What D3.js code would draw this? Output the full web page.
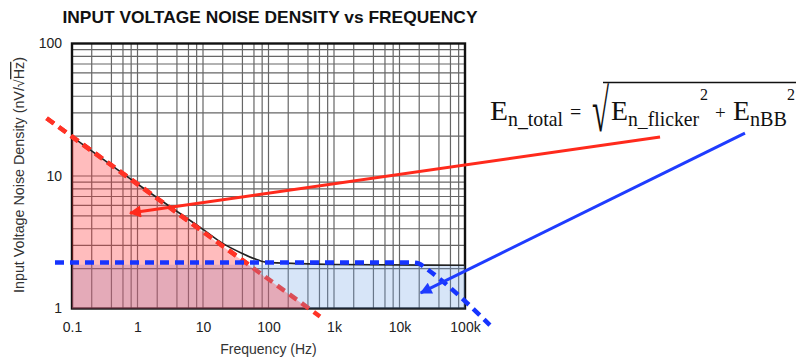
<!DOCTYPE html>
<html>
<head>
<meta charset="utf-8">
<script src="https://cdn.jsdelivr.net/npm/d3@7"></script>
<style>
  html, body { margin: 0; padding: 0; background: #fff; }
  svg { display: block; }
  .sans { font-family: "Liberation Sans", Arial, sans-serif; }
  .serif { font-family: "Liberation Serif", "Times New Roman", serif; fill: #111; }
</style>
</head>
<body>
<main></main>
<script>
(function() {
  const title = "INPUT VOLTAGE NOISE DENSITY vs FREQUENCY";
  const xLabel = "Frequency (Hz)";
  const yLabel = "Input Voltage Noise Density (nV/";

  const xTicks = [0.1, 1, 10, 100, 1000, 10000, 100000];
  const xTickLabels = ["0.1", "1", "10", "100", "1k", "10k", "100k"];
  const yTicks = [1, 10, 100];
  const yTickLabels = ["1", "10", "100"];

  // 1/f (flicker) asymptote
  const flickerFreq = [0.041, 611];
  const flickerNoise = [27.3, 0.87];
  // shaded flicker triangle
  const flickerFillFreq = [0.1, 410, 0.1];
  const flickerFillNoise = [19.5, 1, 1];

  // broadband asymptote (blue dashed)
  const bbFreq = [0.055, 15000, 20000, 25000, 240000];
  const bbNoise = [2.22, 2.22, 2.18, 2.02, 0.75];
  const bbFillFreq = [0.1, 100000];
  const bbFillNoise = [1, 2.14];

  // total noise curve (black)
  const totalFreq = [0.1, 1, 10, 20, 40, 60, 90, 300, 1000, 100000];
  const totalNoise = [19.8, 8.7, 3.95, 3.1, 2.6, 2.38, 2.24, 2.18, 2.15, 2.12];

  // annotation arrows [from, to] in data space
  const redArrow = [[9.5e7, 19.7], [0.77, 5.26]];
  const blueArrow = [[1.88e9, 21.1], [21100, 1.31]];

  const w = 798, h = 362;
  const left = 72, right = 465, top = 43.5, bottom = 308.5;

  const svg = d3.select("main").append("svg")
    .attr("width", w).attr("height", h);

  const defs = svg.append("defs");
  [["redHead", "#ff2a1c"], ["blueHead", "#1f3cff"]].forEach(([id, c]) => {
    defs.append("marker")
      .attr("id", id)
      .attr("viewBox", "0 0 10 10")
      .attr("refX", 9).attr("refY", 5)
      .attr("markerWidth", 5).attr("markerHeight", 4)
      .attr("markerUnits", "strokeWidth")
      .attr("orient", "auto")
      .append("path")
      .attr("d", "M0,0 L10,5 L0,10 Z")
      .attr("fill", c);
  });

  const xScale = d3.scaleLog().domain([0.1, 1e5]).range([left, right]);
  const yScale = d3.scaleLog().domain([1, 100]).range([bottom, top]);

  // grid
  const xMinor = [];
  xTicks.slice(0, -1).forEach(t => [2, 4, 6, 8].forEach(m => xMinor.push(t * m)));
  const yMinor = [];
  yTicks.slice(0, -1).forEach(t => [2, 3, 4, 5, 6, 7, 8, 9].forEach(m => yMinor.push(t * m)));

  const grid = svg.append("g").attr("stroke", "#666").attr("stroke-width", 1.2);
  grid.selectAll(".vg")
    .data(xMinor.concat(xTicks.slice(1, -1)))
    .enter().append("line")
    .attr("x1", d => xScale(d)).attr("x2", d => xScale(d))
    .attr("y1", top).attr("y2", bottom);
  grid.selectAll(".hg")
    .data(yMinor.concat([10]))
    .enter().append("line")
    .attr("y1", d => yScale(d)).attr("y2", d => yScale(d))
    .attr("x1", left).attr("x2", right);

  svg.append("rect")
    .attr("x", left).attr("y", top)
    .attr("width", right - left).attr("height", bottom - top)
    .attr("fill", "none").attr("stroke", "#111").attr("stroke-width", 2.4);

  const line = d3.line().x(d => xScale(d[0])).y(d => yScale(d[1]));

  defs.append("clipPath").attr("id", "upperClip")
    .append("rect").attr("x", 0).attr("y", 0).attr("width", w)
    .attr("height", yScale(bbFillNoise[1]));

  // red dashed flicker asymptote
  svg.append("path")
    .attr("d", line(flickerFreq.map((f, i) => [f, flickerNoise[i]])))
    .attr("fill", "none").attr("stroke", "#ff3326")
    .attr("stroke-width", 4.5).attr("stroke-dasharray", "9,6");

  // broadband fill
  svg.append("rect")
    .attr("x", xScale(bbFillFreq[0]))
    .attr("y", yScale(bbFillNoise[1]))
    .attr("width", xScale(bbFillFreq[1]) - xScale(bbFillFreq[0]))
    .attr("height", yScale(bbFillNoise[0]) - yScale(bbFillNoise[1]))
    .attr("fill", "rgb(110,160,230)").attr("fill-opacity", 0.28);

  // flicker fill
  svg.append("path")
    .attr("d", line(flickerFillFreq.map((f, i) => [f, flickerFillNoise[i]])) + "Z")
    .attr("fill", "rgb(255,52,56)").attr("fill-opacity", 0.33);

  // total curve
  svg.append("path")
    .attr("d", d3.line().curve(d3.curveMonotoneX)
      .x(d => xScale(d[0])).y(d => yScale(d[1]))(totalFreq.map((f, i) => [f, totalNoise[i]])))
    .attr("fill", "none").attr("stroke", "#222").attr("stroke-width", 1.6);

  // red dashed again on top (upper part stays bright)
  svg.append("path")
    .attr("d", line(flickerFreq.map((f, i) => [f, flickerNoise[i]])))
    .attr("fill", "none").attr("stroke", "#ff3326")
    .attr("stroke-width", 4.5).attr("stroke-dasharray", "9,6")
    .attr("clip-path", "url(#upperClip)");

  // blue dashed broadband asymptote
  svg.append("path")
    .attr("d", d3.line().curve(d3.curveMonotoneX)
      .x(d => xScale(d[0])).y(d => yScale(d[1]))(bbFreq.map((f, i) => [f, bbNoise[i]])))
    .attr("fill", "none").attr("stroke", "#1634ff")
    .attr("stroke-width", 4.5).attr("stroke-dasharray", "9,6");

  // arrows
  [[redArrow, "#ff2a1c", "redHead"], [blueArrow, "#1f3cff", "blueHead"]].forEach(([a, c, m]) => {
    svg.append("line")
      .attr("x1", xScale(a[0][0])).attr("y1", yScale(a[0][1]))
      .attr("x2", xScale(a[1][0])).attr("y2", yScale(a[1][1]))
      .attr("stroke", c).attr("stroke-width", 3)
      .attr("marker-end", `url(#${m})`);
  });

  // axes
  const xAxis = d3.axisBottom(xScale).tickValues(xTicks)
    .tickFormat((d, i) => xTickLabels[i]).tickSize(0).tickPadding(14);
  const gx = svg.append("g").attr("class", "sans")
    .attr("transform", `translate(0,${bottom})`).call(xAxis);
  gx.select(".domain").remove();
  gx.selectAll("text").attr("font-size", 14).attr("fill", "#222")
    .attr("font-family", "Liberation Sans, Arial, sans-serif");

  const yAxis = d3.axisLeft(yScale).tickValues(yTicks)
    .tickFormat((d, i) => yTickLabels[i]).tickSize(0).tickPadding(10);
  const gy = svg.append("g").attr("class", "sans")
    .attr("transform", `translate(${left},0)`).call(yAxis);
  gy.select(".domain").remove();
  gy.selectAll("text").attr("font-size", 14).attr("fill", "#222")
    .attr("font-family", "Liberation Sans, Arial, sans-serif");

  svg.append("text").attr("class", "sans")
    .attr("x", 270).attr("y", 23)
    .attr("text-anchor", "middle")
    .attr("font-size", 17).attr("font-weight", "bold").attr("fill", "#111")
    .attr("textLength", 415).attr("lengthAdjust", "spacingAndGlyphs")
    .text(title);

  svg.append("text").attr("class", "sans")
    .attr("x", (left + right) / 2).attr("y", 354)
    .attr("text-anchor", "middle").attr("font-size", 14).attr("fill", "#333")
    .text(xLabel);

  const yt = svg.append("text").attr("class", "sans")
    .attr("transform", "translate(24,175) rotate(-90)")
    .attr("text-anchor", "middle").attr("font-size", 14).attr("fill", "#333")
    .attr("textLength", 236).attr("lengthAdjust", "spacingAndGlyphs");
  yt.append("tspan").text(yLabel);
  yt.append("tspan").text("√");
  yt.append("tspan").attr("text-decoration", "overline").text("Hz");
  yt.append("tspan").text(")");

  // formula
  const f = svg.append("g").attr("class", "serif");
  const piece = (txt, x, y, size, len) => {
    const t = f.append("text").attr("x", x).attr("y", y).attr("font-size", size).text(txt);
    if (len) t.attr("textLength", len).attr("lengthAdjust", "spacingAndGlyphs");
    return t;
  };
  piece("E", 490, 120, 28, 18);
  piece("n_total", 508, 126, 21, 55);
  piece("=", 570, 119, 20);
  f.append("text")
    .attr("transform", "translate(592,131) scale(1.0,1.95)")
    .attr("font-size", 31).text("√");
  f.append("line").attr("x1", 603).attr("x2", 796).attr("y1", 82.5).attr("y2", 82.5)
    .attr("stroke", "#111").attr("stroke-width", 1.3);
  piece("E", 611, 120, 28, 17);
  piece("n_flicker", 628, 126, 22, 71);
  piece("2", 700, 100, 16);
  piece("+", 715, 119, 19);
  piece("E", 733, 120, 28, 17);
  piece("nBB", 750, 126, 22, 37);
  piece("2", 787, 100, 16);
})();
</script>
</body>
</html>
